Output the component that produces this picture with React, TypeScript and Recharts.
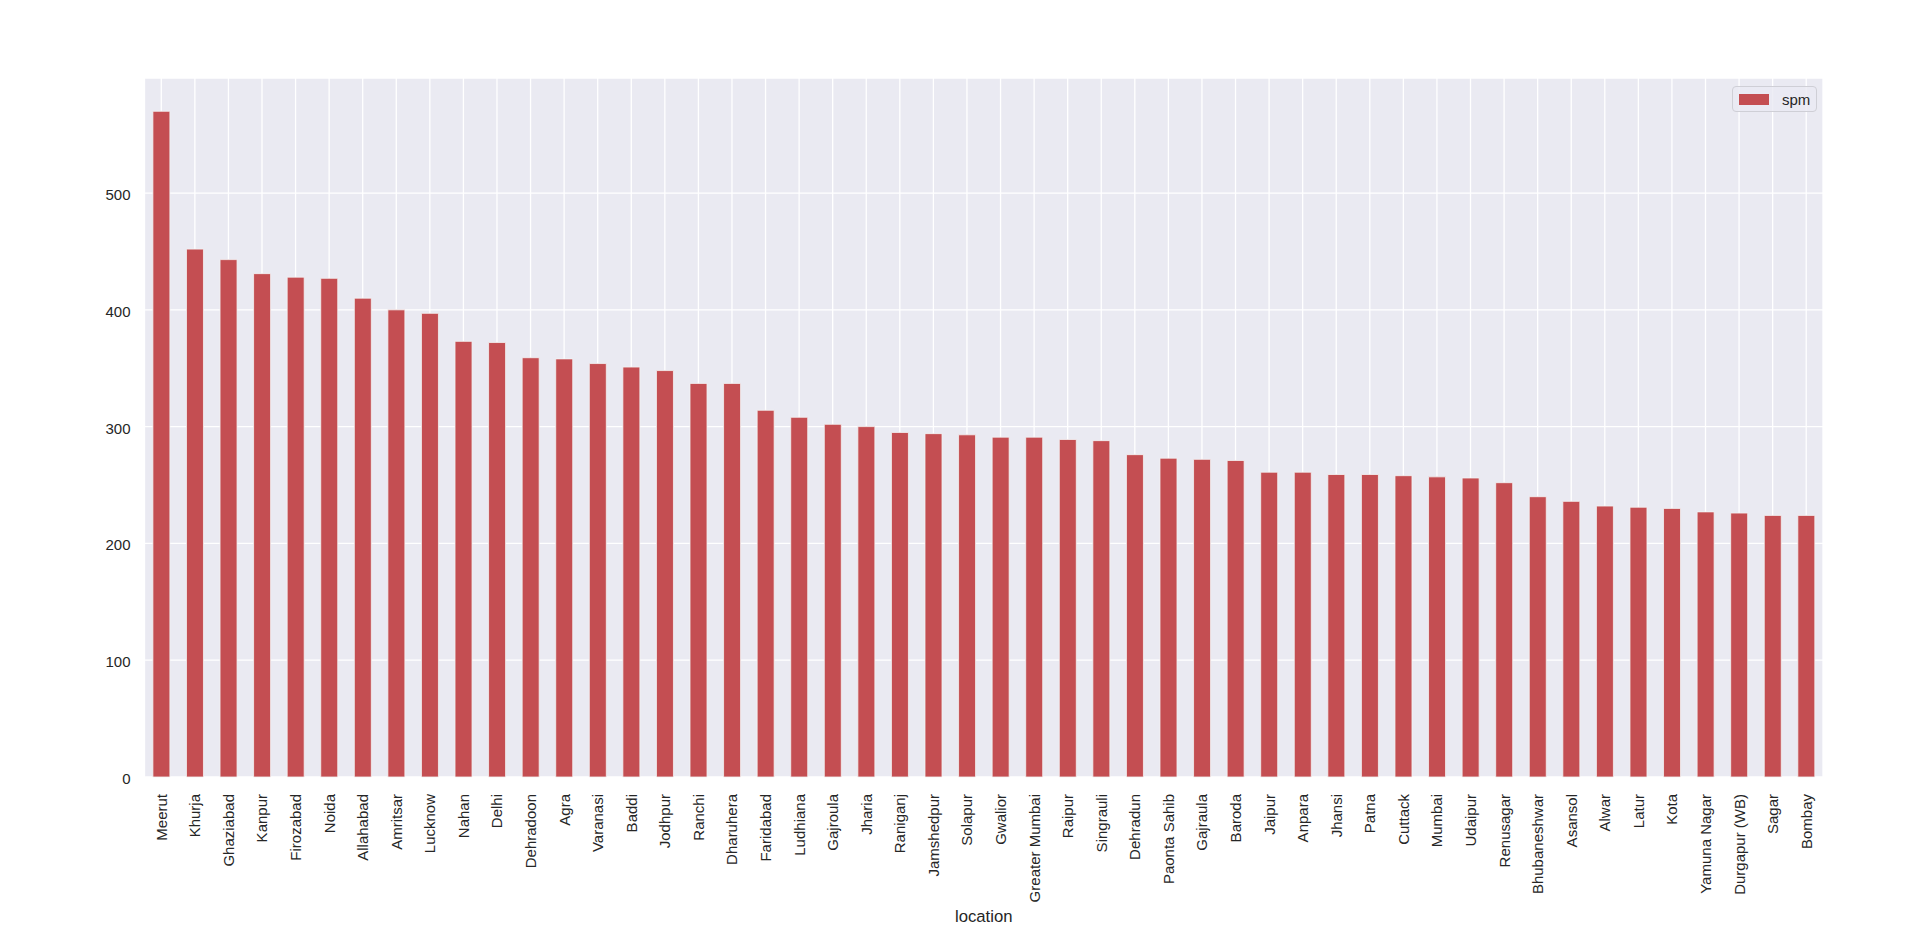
import { Bar, BarChart, CartesianGrid, XAxis, YAxis } from 'recharts'

const locations = [
  'Meerut', 'Khurja', 'Ghaziabad', 'Kanpur', 'Firozabad', 'Noida', 'Allahabad', 'Amritsar', 'Lucknow', 'Nahan',
  'Delhi', 'Dehradoon', 'Agra', 'Varanasi', 'Baddi', 'Jodhpur', 'Ranchi', 'Dharuhera', 'Faridabad', 'Ludhiana',
  'Gajroula', 'Jharia', 'Raniganj', 'Jamshedpur', 'Solapur', 'Gwalior', 'Greater Mumbai', 'Raipur', 'Singrauli', 'Dehradun',
  'Paonta Sahib', 'Gajraula', 'Baroda', 'Jaipur', 'Anpara', 'Jhansi', 'Patna', 'Cuttack', 'Mumbai', 'Udaipur',
  'Renusagar', 'Bhubaneshwar', 'Asansol', 'Alwar', 'Latur', 'Kota', 'Yamuna Nagar', 'Durgapur (WB)', 'Sagar', 'Bombay',
]

const spm = [
  570, 452, 443, 431, 428, 427, 410, 400, 397, 373,
  372, 359, 358, 354, 351, 348, 337, 337, 314, 308,
  302, 300, 295, 294, 293, 291, 291, 289, 288, 276,
  273, 272, 271, 261, 261, 259, 259, 258, 257, 256,
  252, 240, 236, 232, 231, 230, 227, 226, 224, 224,
]

const yTicks = [0, 100, 200, 300, 400, 500]

const data = locations.map((location, i) => ({ location, spm: spm[i] }))

const FONT = '"Liberation Sans", Arial, sans-serif'
const TEXT = '#262626'
const RED = '#c44e52'

function RotatedTick({ x, y, payload }: any) {
  return (
    <text
      transform={`translate(${x},${y + 17}) rotate(-90)`}
      textAnchor="end"
      dominantBaseline="central"
      fill={TEXT}
      fontSize={15}
      fontFamily={FONT}
    >
      {payload.value}
    </text>
  )
}

function LeftTick({ x, y, payload }: any) {
  return (
    <text x={x} y={y + 1.5} textAnchor="end" dominantBaseline="central" fill={TEXT} fontSize={15} fontFamily={FONT}>
      {payload.value}
    </text>
  )
}

export default function App() {
  return (
    <div style={{ position: 'absolute', left: 0, top: 0, width: 1920, height: 927, background: '#fff', fontFamily: FONT }}>
      <BarChart
        width={1920}
        height={927}
        data={data}
        margin={{ top: 78, right: 97, bottom: 0, left: 0 }}
        barCategoryGap="25%"
      >
        <CartesianGrid fill="#eaeaf2" stroke="#ffffff" strokeWidth={1.3} />
        <XAxis
          dataKey="location"
          height={150}
          interval={0}
          tickLine={false}
          axisLine={false}
          tickSize={0}
          tickMargin={0}
          tick={<RotatedTick />}
          label={{ value: 'location', position: 'insideBottom', offset: 5, fill: TEXT, fontSize: 16.7, fontFamily: FONT }}
        />
        <YAxis
          width={144.5}
          domain={[0, 598.5]}
          ticks={yTicks}
          tickLine={false}
          axisLine={false}
          tickSize={0}
          tickMargin={14}
          tick={<LeftTick />}
        />
        <Bar dataKey="spm" fill={RED} stroke="#f4f4f4" strokeWidth={0.8} isAnimationActive={false} />
      </BarChart>
      <div
        style={{
          position: 'absolute',
          left: 1732,
          top: 86,
          width: 85,
          height: 26,
          boxSizing: 'border-box',
          border: '1px solid #cfcfd6',
          borderRadius: 4,
          background: 'rgba(234,234,242,0.8)',
          display: 'flex',
          alignItems: 'center',
        }}
      >
        <span style={{ display: 'inline-block', width: 30, height: 11, background: RED, marginLeft: 6 }} />
        <span style={{ marginLeft: 13, fontSize: 15, color: TEXT, lineHeight: '15px' }}>spm</span>
      </div>
    </div>
  )
}
